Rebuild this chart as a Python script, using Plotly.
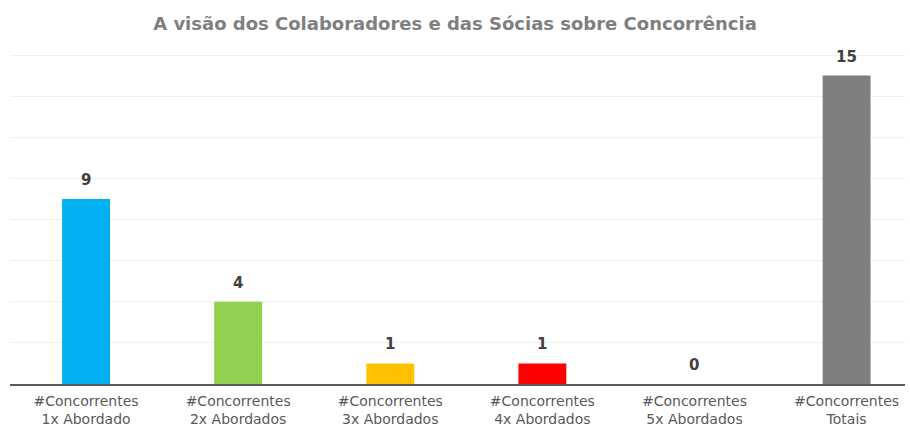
import plotly.graph_objects as go

categories = [
    "#Concorrentes<br>1x Abordado",
    "#Concorrentes<br>2x Abordados",
    "#Concorrentes<br>3x Abordados",
    "#Concorrentes<br>4x Abordados",
    "#Concorrentes<br>5x Abordados",
    "#Concorrentes<br>Totais",
]
values = [9, 4, 1, 1, 0, 15]
colors = ["#00B0F0", "#92D050", "#FFC000", "#FF0000", "#FFFFFF", "#7F7F7F"]
title = "A visão dos Colaboradores e das Sócias sobre Concorrência"

xs = list(range(len(categories)))

fig = go.Figure(
    go.Bar(
        x=xs,
        y=values,
        marker=dict(color=colors, line=dict(width=0)),
        width=0.315,
        hoverinfo="skip",
    )
)

for xi, v in zip(xs, values):
    fig.add_annotation(
        x=xi, y=v, text=str(v), showarrow=False,
        yanchor="bottom", yshift=8,
        font=dict(family="DejaVu Sans", size=15, color="#404040", weight="bold"),
    )

fig.update_layout(
    width=910,
    height=428,
    margin=dict(l=10, r=5, t=53, b=44, autoexpand=False),
    paper_bgcolor="white",
    plot_bgcolor="white",
    showlegend=False,
    title=dict(
        text=title,
        x=0.5,
        xanchor="center",
        y=0.945,
        yanchor="middle",
        font=dict(family="DejaVu Sans", size=18, color="#7F7F7F", weight="bold"),
    ),
)
fig.update_xaxes(
    tickmode="array",
    tickvals=xs,
    ticktext=categories,
    range=[-0.5, 5.384],
    showline=True,
    linecolor="#595959",
    linewidth=2,
    showgrid=False,
    ticks="",
    automargin=False,
    ticklabelstandoff=3,
    tickfont=dict(family="DejaVu Sans", size=14, color="#595959"),
)
fig.update_yaxes(
    range=[0, 16.1],
    dtick=2,
    showgrid=True,
    gridcolor="#EFEFEF",
    gridwidth=1,
    zeroline=False,
    showticklabels=False,
)

fig.write_html("out.html")
